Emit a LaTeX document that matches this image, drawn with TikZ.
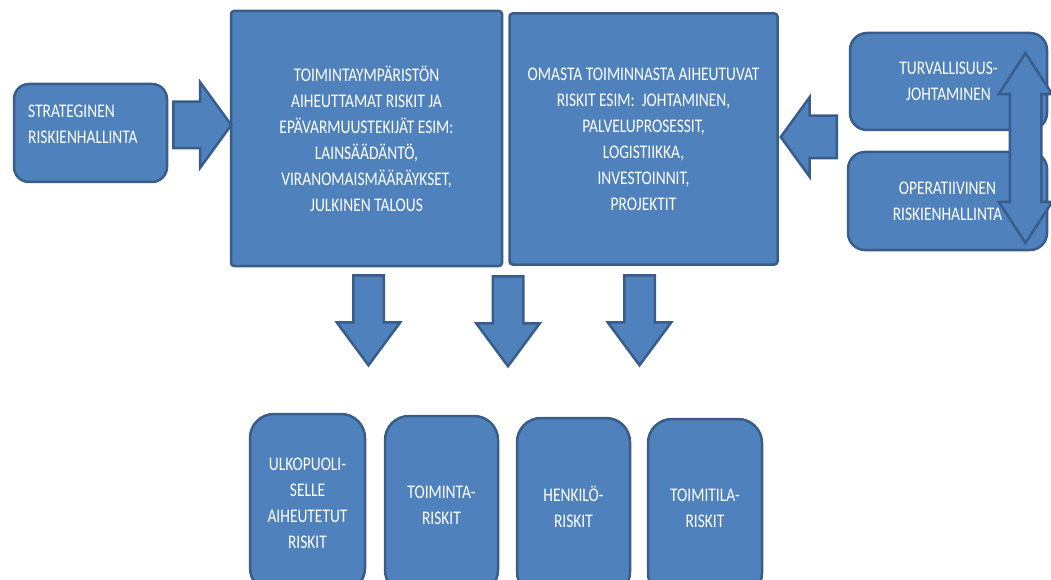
\documentclass[tikz,border=0pt]{standalone}
\usepackage{fontspec}
\setmainfont{Carlito}[FakeStretch=0.8]
\usepackage{xcolor}
\usetikzlibrary{shapes.arrows}
\definecolor{boxblue}{HTML}{4F81BD}
\definecolor{edgeblue}{HTML}{385D8A}

\begin{document}
\begin{tikzpicture}[
    x=1pt, y=-1pt,
    box/.style={rectangle, draw=edgeblue, fill=boxblue, line width=2.5pt, text=white, align=center, inner sep=0pt, font=\fontsize{19.3}{26}\selectfont},
    bigbox/.style={box, rounded corners=3pt},
    sidebox/.style={box, rounded corners=17pt},
    riskbox/.style={box, rounded corners=24pt},
    lbl/.style={text=white, align=left, inner sep=0pt, font=\fontsize{19.3}{26}\selectfont},
    arrowbase/.style={draw=edgeblue, fill=boxblue, line width=2.5pt},
    sidearrow/.style={arrowbase, single arrow, inner xsep=0pt, single arrow tip angle=108},
    downarrow/.style={arrowbase, single arrow, inner sep=14pt, minimum height=90pt, single arrow head extend=16.5pt, single arrow tip angle=73, shape border rotate=270},
    botharrow/.style={arrowbase, double arrow, inner sep=14.5pt, minimum height=190pt, double arrow head extend=11pt, double arrow tip angle=66, shape border rotate=90}
]
\useasboundingbox (0,0) rectangle (1051,580);
\clip (0,0) rectangle (1051,580);

% Main boxes
\node[sidebox, rounded corners=15pt, minimum width=153pt, minimum height=98pt] (strat) at (90.5,133) {};
\node[lbl, anchor=north west] (stratlbl) at (28,105) {STRATEGINEN\\RISKIENHALLINTA};
\node[bigbox, minimum width=271pt, minimum height=255pt] (env) at (366.5,138.5) {TOIMINTAYMPÄRISTÖN\\AIHEUTTAMAT RISKIT JA\\EPÄVARMUUSTEKIJÄT ESIM:\\LAINSÄÄDÄNTÖ,\\VIRANOMAISMÄÄRÄYKSET,\\JULKINEN TALOUS};
\node[bigbox, minimum width=268pt, minimum height=251pt] (own) at (643.5,139) {OMASTA TOIMINNASTA AIHEUTUVAT\\RISKIT ESIM:~ JOHTAMINEN,\\PALVELUPROSESSIT,\\LOGISTIIKKA,\\INVESTOINNIT,\\PROJEKTIT};

% Side boxes
\node[sidebox, minimum width=197pt, minimum height=97pt] (safety) at (948.5,81.5) {TURVALLISUUS-\\JOHTAMINEN};
\node[sidebox, minimum width=199pt, minimum height=98pt] (oper) at (947.5,201) {OPERATIIVINEN\\RISKIENHALLINTA};

% Risk boxes
\node[riskbox, minimum width=115pt, minimum height=178pt] (outside) at (307.5,503) {ULKOPUOLI-\\SELLE\\AIHEUTETUT\\RISKIT};
\node[riskbox, minimum width=113pt, minimum height=178pt] (action) at (441.5,505) {TOIMINTA-\\RISKIT};
\node[riskbox, minimum width=113pt, minimum height=178pt] (person) at (573.5,507) {HENKILÖ-\\RISKIT};
\node[riskbox, minimum width=114pt, minimum height=178pt] (premises) at (705,508) {TOIMITILA-\\RISKIT};

% Block arrows
\node[sidearrow, anchor=tail, inner ysep=22pt, minimum height=58pt, single arrow head extend=19.5pt] (a1) at (172,125) {};
\node[sidearrow, anchor=tail, shape border rotate=180, inner ysep=20pt, minimum height=56pt, single arrow head extend=18.5pt] (a2) at (838,137) {};
\node[downarrow, anchor=tail] (d1) at (368.5,274) {};
\node[downarrow, anchor=tail] (d2) at (508,275) {};
\node[downarrow, anchor=tail] (d3) at (639.5,274) {};
\node[botharrow] (a3) at (1025.5,148) {};

\end{tikzpicture}
\end{document}
